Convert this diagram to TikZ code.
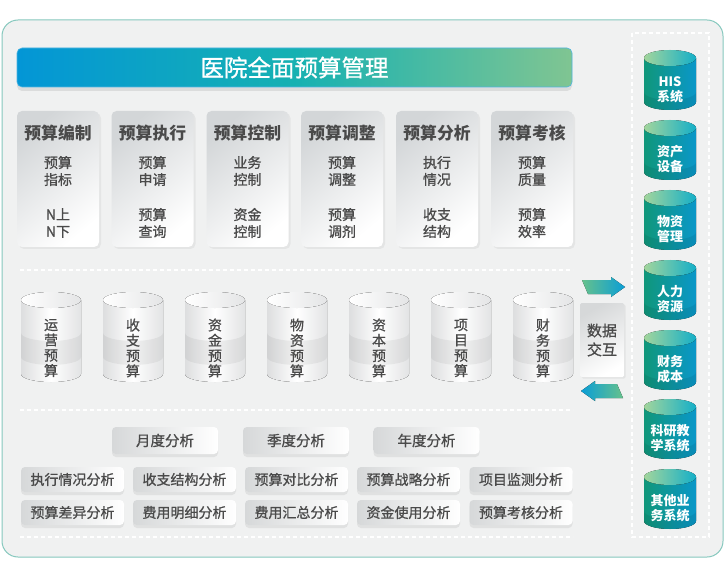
\documentclass[tikz,border=0pt]{standalone}
\usepackage{fontspec}
\setmainfont{Noto Sans CJK SC}
\newfontfamily\medf{Noto Sans CJK SC}[FakeBold=0.9]
\usetikzlibrary{shadows}
\definecolor{outerfill}{HTML}{F0F1F1}
\definecolor{outerline}{HTML}{86C8BE}
\definecolor{tb1}{HTML}{0396D6}
\definecolor{tb2}{HTML}{16B1B2}
\definecolor{tb3}{HTML}{80C592}
\definecolor{txt}{HTML}{4A4A4A}
\definecolor{cardgray}{HTML}{D3D6D8}
\definecolor{btngray}{HTML}{D6D8D9}
\definecolor{cylL}{HTML}{DDDEDF}
\definecolor{cylR}{HTML}{E2E3E4}
\definecolor{cyltopR}{HTML}{E4E5E6}
\definecolor{tealL}{HTML}{10977A}
\definecolor{tealR}{HTML}{0A97C9}
\definecolor{teatopL}{HTML}{A2D59C}
\definecolor{teatopR}{HTML}{14AFC8}
\definecolor{arrG}{HTML}{66C18C}
\definecolor{arrB}{HTML}{0A9ED6}
\tikzset{
  outerbox/.style={fill=outerfill, draw=outerline, line width=1pt, rounded corners=16pt},
  titlebar/.style={rounded corners=5pt, minimum width=555pt, minimum height=39pt,
    left color=tb1, right color=tb3, middle color=tb2, draw=tb1!70, line width=0.6pt,
    text=white, font=\medf\fontsize{23.5}{26}\selectfont,
    drop shadow={opacity=0.18, shadow xshift=0pt, shadow yshift=-4pt}},
  card/.style={rounded corners=5pt, minimum width=82pt, minimum height=136pt,
    top color=cardgray, bottom color=white, shading angle=40,
    drop shadow={opacity=0.10, shadow xshift=2pt, shadow yshift=-2pt}},
  cardtitle/.style={text=txt, font=\bfseries\fontsize{16.8}{19}\selectfont},
  cardsub/.style={text=txt, align=center, font=\medf\fontsize{14}{17}\selectfont},
  cyltext/.style={text=txt, align=center, font=\medf\fontsize{14}{15.3}\selectfont},
  tealtext/.style={text=white, align=center, font=\bfseries\fontsize{13}{15}\selectfont},
  xchg/.style={minimum width=44pt, minimum height=74pt, rounded corners=1.5pt,
    top color=btngray, bottom color=white, shading angle=30, text=txt, align=center,
    font=\medf\fontsize{15}{19}\selectfont,
    drop shadow={opacity=0.12, shadow xshift=1.5pt, shadow yshift=-1.5pt}},
  period/.style={minimum width=106pt, minimum height=27pt, rounded corners=4pt,
    left color=btngray, right color=white, text=txt, font=\medf\fontsize{14.5}{16}\selectfont,
    drop shadow={opacity=0.14, shadow xshift=0pt, shadow yshift=-3pt}},
  anbtn/.style={minimum width=103pt, minimum height=25pt, rounded corners=4pt,
    left color=btngray, right color=white, text=txt, font=\medf\fontsize{14}{16}\selectfont,
    drop shadow={opacity=0.14, shadow xshift=0pt, shadow yshift=-3pt}},
  sepline/.style={white, line width=1.2pt, dash pattern=on 4pt off 3pt},
}
\newcommand\graycyl[3]{%
  \begin{scope}[shift={(#2,0)}]
    \fill[left color=cylL, right color=cylR, middle color=white]
      (-30,300) -- (-30,374) arc[start angle=180,end angle=0,x radius=30,y radius=8] -- (30,300) -- cycle;
    \fill[black,opacity=0.05]
      (-30,333) arc[start angle=180,end angle=0,x radius=30,y radius=8] -- (30,357)
      arc[start angle=0,end angle=180,x radius=30,y radius=8] -- cycle;
    \fill[left color=white, right color=cyltopR] (0,300) ellipse[x radius=30,y radius=8];
    \node[cyltext] (#1) at (0,348) {#3};
  \end{scope}}
\newcommand\tealcyl[3]{%
  \begin{scope}[shift={(670,#2)}]
    \fill[left color=tealL, right color=tealR]
      (-26,8) -- (-26,52) arc[start angle=180,end angle=0,x radius=26,y radius=8] -- (26,8) -- cycle;
    \fill[black,opacity=0.07]
      (-26,42) arc[start angle=180,end angle=0,x radius=26,y radius=8] -- (26,52)
      arc[start angle=0,end angle=180,x radius=26,y radius=8] -- cycle;
    \fill[left color=teatopL, right color=teatopR] (0,8) ellipse[x radius=26,y radius=8];
    \node[tealtext] (#1) at (0,39.5) {#3};
  \end{scope}}
\begin{document}
\begin{tikzpicture}[x=1pt,y=-1pt]
\useasboundingbox (0,0) rectangle (725,577);
\fill[white] (0,0) rectangle (725,577);
\draw[outerbox] (2,20) rectangle (723,557);

% title
\node[titlebar] (title) at (294.5,67.5) {医院全面预算管理};

% cards
\foreach \n/\cx/\t/\a/\b in {1/58/预算编制/预算\\指标/N上\\N下,
  2/152.5/预算执行/预算\\申请/预算\\查询,
  3/247.5/预算控制/业务\\控制/资金\\控制,
  4/342/预算调整/预算\\调整/预算\\调剂,
  5/437/预算分析/执行\\情况/收支\\结构,
  6/532/预算考核/预算\\质量/预算\\效率}{
  \node[card] (card\n) at (\cx,179) {};
  \node[cardtitle] (ct\n) at (\cx,133) {\t};
  \node[cardsub] (ca\n) at (\cx,171) {\a};
  \node[cardsub] (cb\n) at (\cx,223) {\b};
}

% separators
\draw[sepline] (20,270) -- (573,270);
\draw[sepline] (20,410) -- (573,410);
\draw[sepline] (20,537) -- (573,537);
\draw[sepline] (632,33) rectangle (709,537);

% gray cylinders
\graycyl{g1}{51}{运\\营\\预\\算}
\graycyl{g2}{133}{收\\支\\预\\算}
\graycyl{g3}{215}{资\\金\\预\\算}
\graycyl{g4}{297}{物\\资\\预\\算}
\graycyl{g5}{379}{资\\本\\预\\算}
\graycyl{g6}{461}{项\\目\\预\\算}
\graycyl{g7}{543}{财\\务\\预\\算}

% data exchange
\node[xchg] (xchg) at (602,340) {数据\\交互};
\fill[left color=arrG, right color=arrB]
  (582,280) -- (611,280) -- (611,277) -- (625,287) -- (611,297) -- (611,294) -- (588,294) -- cycle;
\fill[left color=arrB, right color=arrG]
  (617,384) -- (595,384) -- (595,381) -- (581,391) -- (595,401) -- (595,398) -- (623,398) -- cycle;

% teal cylinders
\tealcyl{s1}{50}{HIS\\系统}
\tealcyl{s2}{120}{资产\\设备}
\tealcyl{s3}{190}{物资\\管理}
\tealcyl{s4}{260}{人力\\资源}
\tealcyl{s5}{330}{财务\\成本}
\tealcyl{s6}{399}{科研教\\学系统}
\tealcyl{s7}{469}{其他业\\务系统}

% period buttons
\node[period] (p1) at (165,440.5) {月度分析};
\node[period] (p2) at (296,440.5) {季度分析};
\node[period] (p3) at (426.5,440.5) {年度分析};

% analysis buttons
\foreach \i/\cx/\a/\b in {1/72.5/执行情况分析/预算差异分析,
  2/184.5/收支结构分析/费用明细分析,
  3/296.5/预算对比分析/费用汇总分析,
  4/408.5/预算战略分析/资金使用分析,
  5/521/项目监测分析/预算考核分析}{
  \node[anbtn] (ra\i) at (\cx,479.5) {\a};
  \node[anbtn] (rb\i) at (\cx,512.5) {\b};
}
\end{tikzpicture}
\end{document}
